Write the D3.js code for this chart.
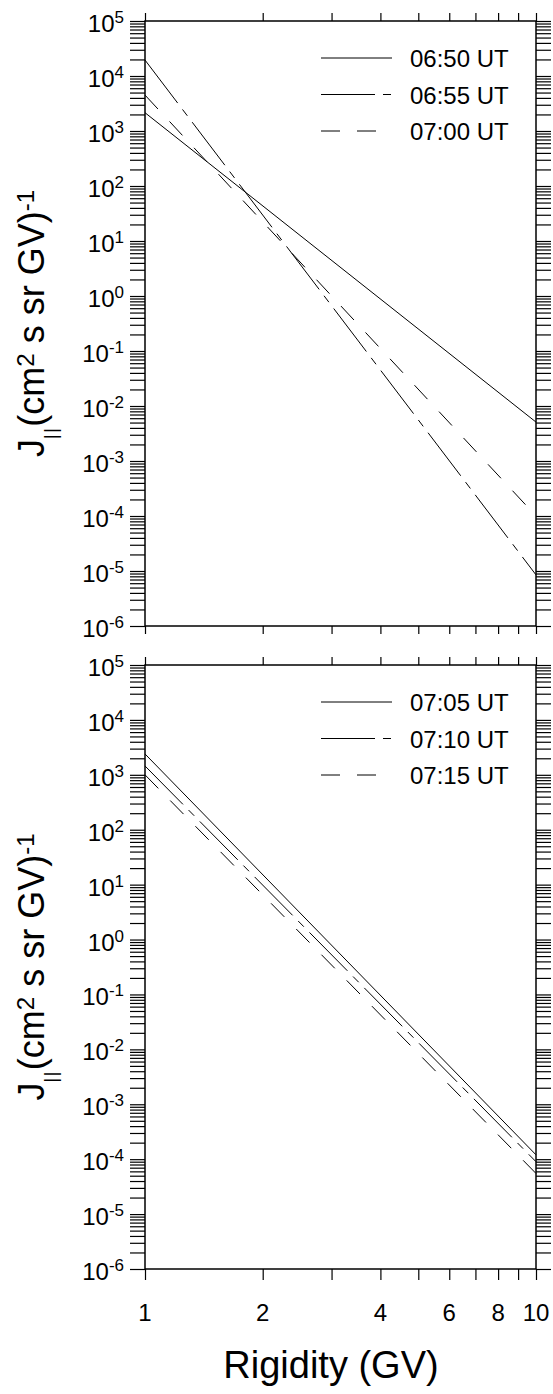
<!DOCTYPE html>
<html>
<head>
<meta charset="utf-8">
<script src="https://cdn.jsdelivr.net/npm/d3@7"></script>
<style>
  body { margin: 0; background: #fff; }
  svg { font-family: "Liberation Sans", Arial, sans-serif; }
</style>
</head>
<body>
<div id="chart"></div>
<script>
// rigidity values (GV) at which the spectra were read
let rigidity = [1, 10];

// upper panel spectra J|| (cm2 s sr GV)^-1
let flux0650 = [2.15e3, 5.1e-3];
let flux0655 = [1.95e4, 8.5e-6];
let flux0700 = [4.5e3, 1.0e-4];

// lower panel spectra
let flux0705 = [2.4e3, 1.2e-4];
let flux0710 = [1.45e3, 9.0e-5];
let flux0715 = [1.0e3, 5.5e-5];

let topLabels = ["06:50 UT", "06:55 UT", "07:00 UT"];
let bottomLabels = ["07:05 UT", "07:10 UT", "07:15 UT"];

// tick labels
let xTickLabels = [1, 2, 4, 6, 8, 10];
let yDecades = [-6, -5, -4, -3, -2, -1, 0, 1, 2, 3, 4, 5];

let svgWidth = 553;
let svgHeight = 1394;

let left = 145, right = 536;
let panels = [
  { top: 21, bottom: 626, labels: topLabels, series: [flux0650, flux0655, flux0700], last: false },
  { top: 665, bottom: 1269, labels: bottomLabels, series: [flux0705, flux0710, flux0715], last: true }
];

// solid, long dash - short dash, dashed
let dashes = [null, "54,8,8,8", "19,17"];

let svg = d3.select("#chart")
  .append("svg")
  .attr("width", svgWidth)
  .attr("height", svgHeight);

let xScale = d3.scaleLog().domain([1, 10]).range([left, right]);

let xTicks = d3.range(1, 11);
let yTicks = [];
yDecades.forEach(k => {
  for (let m = 1; m <= 9; m++) {
    if (k === 5 && m > 1) break;
    yTicks.push(m * Math.pow(10, k));
  }
});

panels.forEach(p => {
  let yScale = d3.scaleLog().domain([1e-6, 1e5]).range([p.bottom, p.top]);
  let g = svg.append("g");

  // y axes, left and right (ticks outward)
  g.append("g")
    .attr("transform", `translate(${left},0)`)
    .call(d3.axisLeft(yScale).tickValues(yTicks).tickSize(15).tickFormat(""));
  g.append("g")
    .attr("transform", `translate(${right},0)`)
    .call(d3.axisRight(yScale).tickValues(yTicks).tickSize(15).tickFormat(""));

  // x axes, top and bottom
  g.append("g")
    .attr("transform", `translate(0,${p.top})`)
    .call(d3.axisTop(xScale).tickValues(xTicks).tickSize(8).tickFormat(""));
  g.append("g")
    .attr("transform", `translate(0,${p.bottom})`)
    .call(d3.axisBottom(xScale).tickValues(xTicks).tickSize(p.last ? 11 : 8).tickFormat(""));

  g.selectAll(".domain").remove();
  g.selectAll(".tick line").attr("stroke", "#000").attr("stroke-width", 1.2);

  // frame
  g.append("rect")
    .attr("x", left)
    .attr("y", p.top)
    .attr("width", right - left)
    .attr("height", p.bottom - p.top)
    .attr("fill", "none")
    .attr("stroke", "#000")
    .attr("stroke-width", 1.5);

  // decade labels 10^k
  let yl = g.selectAll(".ylab")
    .data(yDecades)
    .enter()
    .append("text")
    .attr("x", 124)
    .attr("y", d => yScale(Math.pow(10, d)) + 11)
    .attr("text-anchor", "end")
    .attr("font-size", 24)
    .attr("fill", "#000");
  yl.append("tspan").text("10");
  yl.append("tspan").attr("font-size", 17).attr("dy", -9).text(d => d);

  // spectra
  let line = d3.line()
    .x((d, i) => xScale(rigidity[i]))
    .y(d => yScale(d));

  p.series.forEach((s, i) => {
    g.append("path")
      .datum(s)
      .attr("d", line)
      .attr("fill", "none")
      .attr("stroke", "#000")
      .attr("stroke-width", 1)
      .attr("stroke-dasharray", dashes[i]);
  });

  // legend
  p.labels.forEach((lab, i) => {
    let ly = p.top + 37 + i * 36.5;
    g.append("line")
      .attr("x1", 321).attr("x2", 392)
      .attr("y1", ly).attr("y2", ly)
      .attr("stroke", "#000")
      .attr("stroke-width", 1)
      .attr("stroke-dasharray", dashes[i]);
    g.append("text")
      .attr("x", 410)
      .attr("y", ly + 9)
      .attr("font-size", 24)
      .text(lab);
  });

  // y axis title
  let cy = (p.top + p.bottom) / 2;
  let yt = g.append("text")
    .attr("transform", `translate(44,${cy}) rotate(-90)`)
    .attr("text-anchor", "middle")
    .attr("font-size", 36);
  yt.append("tspan").text("J");
  yt.append("tspan").attr("font-size", 18).attr("letter-spacing", 1.5).attr("dy", 13).text("||");
  yt.append("tspan").attr("dy", -13).text("(cm");
  yt.append("tspan").attr("font-size", 24).attr("dy", -10).text("2");
  yt.append("tspan").attr("dy", 10).text(" s sr GV)");
  yt.append("tspan").attr("font-size", 24).attr("dy", -10).text("-1");

  // x tick labels on the lowest panel
  if (p.last) {
    g.selectAll(".xlab")
      .data(xTickLabels)
      .enter()
      .append("text")
      .attr("x", d => xScale(d))
      .attr("y", 1321)
      .attr("text-anchor", "middle")
      .attr("font-size", 24)
      .text(d => d);
  }
});

// x axis title
svg.append("text")
  .attr("x", 331)
  .attr("y", 1378)
  .attr("text-anchor", "middle")
  .attr("font-size", 38)
  .text("Rigidity (GV)");
</script>
</body>
</html>
